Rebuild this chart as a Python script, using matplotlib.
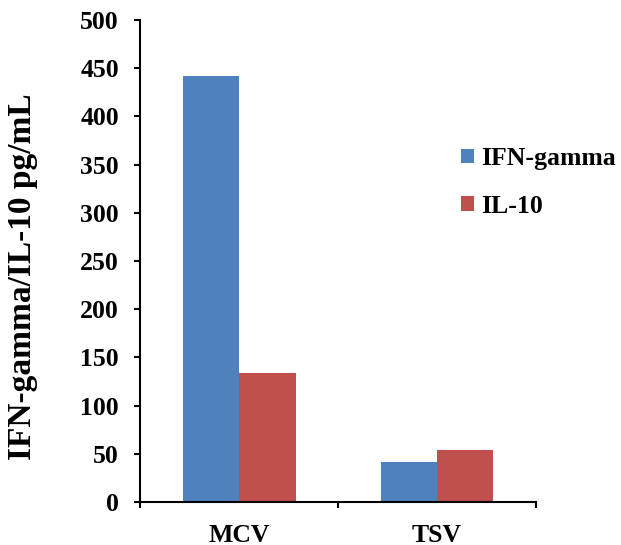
import numpy as np
from matplotlib import pyplot as plt

categories = ['MCV', 'TSV']
ifn_gamma = [442, 42]
il_10 = [134, 54]

plt.rcParams['font.family'] = ['Liberation Serif', 'DejaVu Serif']
plt.rcParams['font.weight'] = 'bold'

fig = plt.figure(figsize=(6.21, 5.45), dpi=100)
ax = fig.add_axes([0.2262, 0.0789, 0.6369, 0.8844])

x = np.arange(len(categories))
width = 0.284
ax.bar(x - width / 2, ifn_gamma, width, color='#4F81BD', label='IFN-gamma')
ax.bar(x + width / 2, il_10, width, color='#C0504D', label='IL-10')

ax.set_xlim(-0.5, 1.5)
ax.set_ylim(0, 500)
ax.set_yticks(range(0, 501, 50))
ax.set_xticks(x)
ax.set_xticklabels(categories)
ax.set_xticks([-0.5, 0.5, 1.5], minor=True)
ax.tick_params(axis='x', which='major', length=0, pad=16, labelsize=18.5)
ax.tick_params(axis='x', which='minor', length=4.5, width=1.5, direction='out')
ax.tick_params(axis='y', length=4, width=1.5, direction='out', labelsize=18.5, pad=11.5)
for lab in ax.get_xticklabels() + ax.get_yticklabels():
    lab.set_fontweight('bold')

for side in ['top', 'right']:
    ax.spines[side].set_visible(False)
for side in ['left', 'bottom']:
    ax.spines[side].set_linewidth(1.5)

ax.set_ylabel('IFN-gamma/IL-10 pg/mL', fontsize=24, fontweight='bold')
ax.yaxis.set_label_coords(-0.259, 0.468)

fig.legend(loc='upper left', bbox_to_anchor=(0.7053, 0.7725), frameon=False,
           prop={'size': 18.5, 'weight': 'bold'}, handlelength=0.5, handleheight=0.5,
           handletextpad=0.27, labelspacing=0.95)

fig.savefig('out.png', dpi=100)
